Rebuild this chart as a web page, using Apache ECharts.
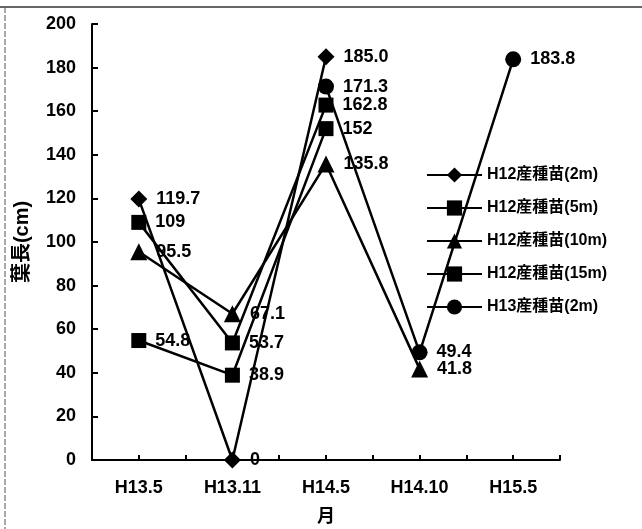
<!DOCTYPE html>
<html>
<head>
<meta charset="utf-8">
<script src="https://cdn.jsdelivr.net/npm/echarts@6/dist/echarts.min.js"></script>
<style>html,body{margin:0;padding:0;background:#fff}#c{width:642px;height:529px}</style>
</head>
<body>
<div id="c"></div>
<script>
const categories = ['H13.5', 'H13.11', 'H14.5', 'H14.10', 'H15.5'];
const seriesNames = ['H12産種苗(2m)', 'H12産種苗(5m)', 'H12産種苗(10m)', 'H12産種苗(15m)', 'H13産種苗(2m)'];
const s2m   = [119.7, 0, 185.0, null, null];
const s5m   = [109, 53.7, 162.8, null, null];
const s10m  = [95.5, 67.1, 135.8, 41.8, null];
const s15m  = [54.8, 38.9, 152, null, null];
const h13   = [null, null, 171.3, 49.4, 183.8];
const labelText = [
  ['119.7', '0', '185.0', '', ''],
  ['109', '53.7', '162.8', '', ''],
  ['95.5', '67.1', '135.8', '41.8', ''],
  ['54.8', '38.9', '152', '', ''],
  ['', '', '171.3', '49.4', '183.8']
];
const yTicks = [0, 20, 40, 60, 80, 100, 120, 140, 160, 180, 200];

const FONT = '"Liberation Sans", Arial, "Noto Sans CJK JP", sans-serif';
const CJK = '"Liberation Sans", "Noto Sans CJK JP", sans-serif';
const symbols = ['diamond', 'rect', 'triangle', 'rect', 'circle'];
const sizes = [17, 15, 17, 15, 16];
const allData = [s2m, s5m, s10m, s15m, h13];

const chart = echarts.init(document.getElementById('c'), null, {renderer: 'canvas'});
chart.setOption({
  animation: false,
  backgroundColor: '#fff',
  grid: {left: 92, right: 82, top: 24, bottom: 67},
  legend: {
    orient: 'vertical', left: 421, top: 162,
    itemWidth: 55, itemHeight: 19, itemGap: 17,
    textStyle: {fontFamily: CJK, fontWeight: 'bold', fontSize: 16, color: '#000'},
    data: seriesNames
  },
  xAxis: [{
    type: 'category', data: categories, boundaryGap: true,
    axisLine: {lineStyle: {color: '#000', width: 2}},
    axisTick: {show: true, inside: true, alignWithLabel: true, length: 5, lineStyle: {color: '#000', width: 2}},
    axisLabel: {fontFamily: FONT, fontWeight: 'bold', fontSize: 18, color: '#000', margin: 19},
    name: '月', nameLocation: 'middle', nameGap: 46,
    nameTextStyle: {fontFamily: '"Noto Sans CJK JP", sans-serif', fontWeight: 'bold', fontSize: 18, color: '#000'}
  }, {
    type: 'category', data: categories, boundaryGap: true, position: 'bottom',
    axisLine: {show: false},
    axisTick: {show: true, inside: true, length: 5, lineStyle: {color: '#000', width: 2}},
    axisLabel: {show: false}
  }],
  yAxis: {
    type: 'value', min: 0, max: 200, interval: 20,
    splitLine: {show: false},
    axisLine: {show: true, lineStyle: {color: '#000', width: 2}},
    axisTick: {show: true, inside: true, length: 6, lineStyle: {color: '#000', width: 2}},
    axisLabel: {fontFamily: FONT, fontWeight: 'bold', fontSize: 18, color: '#000', margin: 16,
      formatter: v => yTicks.includes(v) ? String(v) : ''},
    name: '葉長(cm)', nameLocation: 'middle', nameRotate: 90, nameGap: 60,
    nameTextStyle: {fontFamily: CJK, fontWeight: 'bold', fontSize: 20, color: '#000'}
  },
  graphic: [
    {type: 'line', shape: {x1: 0, y1: 7, x2: 642, y2: 7}, style: {stroke: '#333', lineWidth: 1.5}},
    {type: 'line', shape: {x1: 5, y1: 7, x2: 5, y2: 529}, style: {stroke: '#555', lineWidth: 1, lineDash: [6, 2]}}
  ],
  series: seriesNames.map((n, i) => ({
    name: n, type: 'line', data: allData[i],
    symbol: symbols[i], symbolSize: sizes[i], showAllSymbol: true,
    lineStyle: {color: '#000', width: 2.5},
    itemStyle: {color: '#000'},
    label: {
      show: true, position: 'right', distance: 9,
      fontFamily: FONT, fontWeight: 'bold', fontSize: 18, color: '#000',
      formatter: p => labelText[i][p.dataIndex]
    },
    z: 2
  }))
});
</script>
</body>
</html>
